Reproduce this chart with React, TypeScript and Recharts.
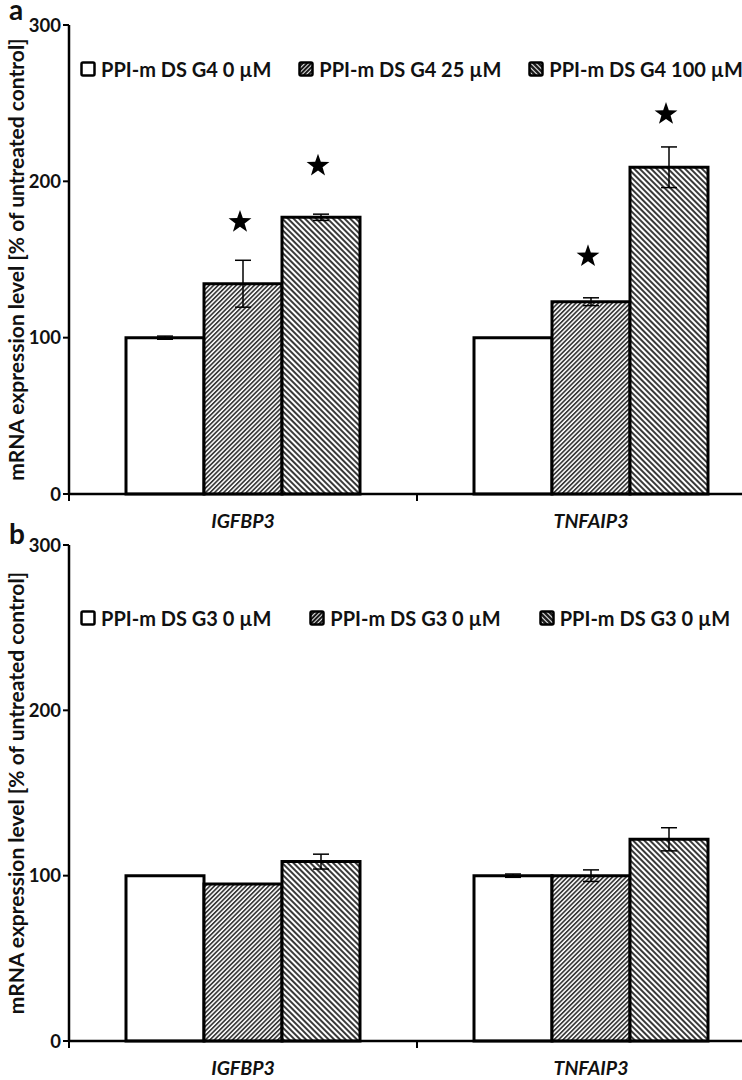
import React from 'react';
import { BarChart, Bar, XAxis, YAxis, ErrorBar, Legend, LabelList } from 'recharts';

const genes = ['IGFBP3', 'TNFAIP3'];
const yTicks = [0, 100, 200, 300];
const yLabel = 'mRNA expression level [% of untreated control]';

const legendA = ['PPI-m DS G4 0 µM', 'PPI-m DS G4 25 µM', 'PPI-m DS G4 100 µM'];
const valuesA0 = [100, 100];
const errorsA0 = [1, 0];
const valuesA25 = [134.5, 123];
const errorsA25 = [15, 2.5];
const valuesA100 = [177, 209];
const errorsA100 = [2, 13];
const starsA25 = [174, 152];
const starsA100 = [210, 243];

const legendB = ['PPI-m DS G3 0 µM', 'PPI-m DS G3 0 µM', 'PPI-m DS G3 0 µM'];
const valuesB0 = [100, 100];
const errorsB0 = [0, 1];
const valuesB25 = [95, 100];
const errorsB25 = [0, 3.5];
const valuesB100 = [108.5, 122];
const errorsB100 = [4.5, 7];

const FONT = 'Lato, "Open Sans", sans-serif';

function buildRows(v0: number[], e0: number[], v25: number[], e25: number[], v100: number[], e100: number[]) {
  return genes.map((g, i) => ({
    gene: g,
    v0: v0[i], e0: e0[i],
    v25: v25[i], e25: e25[i],
    v100: v100[i], e100: e100[i],
  }));
}

const dataA = buildRows(valuesA0, errorsA0, valuesA25, errorsA25, valuesA100, errorsA100);
const dataB = buildRows(valuesB0, errorsB0, valuesB25, errorsB25, valuesB100, errorsB100);

function starPath(cx: number, cy: number, R: number, r: number) {
  let d = '';
  for (let k = 0; k < 10; k++) {
    const ang = -Math.PI / 2 + (k * Math.PI) / 5;
    const rad = k % 2 === 0 ? R : r;
    d += (k === 0 ? 'M' : 'L') + (cx + rad * Math.cos(ang)).toFixed(2) + ',' + (cy + rad * Math.sin(ang)).toFixed(2);
  }
  return d + 'Z';
}

const makeStar = (stars?: number[]) => (props: any) => {
  if (!stars) return null;
  const { x, y, width, height, value, index } = props;
  const s = stars[index];
  if (s == null || !value) return null;
  const unit = Number(height) / Number(value);
  const baseY = Number(y) + Number(height);
  const cy = baseY - s * unit;
  const cx = Number(x) + Number(width) / 2 - 3;
  return <path key={'star' + index} d={starPath(cx, cy, 12, 4.8)} fill="#000" />;
};

const GeneTick = (props: any) => {
  const { x, y, payload, width, visibleTicksCount } = props;
  const half = payload && payload.offset ? payload.offset : width / (visibleTicksCount || 2) / 2;
  const bx = x - half;
  return (
    <g>
      <line x1={bx} x2={bx} y1={y} y2={y + 7} stroke="#000" strokeWidth={2} />
      <text x={x} y={y + 34} textAnchor="middle" fontFamily={FONT} fontWeight={700} fontStyle="italic" fontSize={19.5} fill="#111">
        {payload.value}
      </text>
    </g>
  );
};

function PatternDefs({ prefix }: { prefix: string }) {
  return (
    <defs>
      <pattern id={prefix + 'p25'} width="3.2" height="3.2" patternUnits="userSpaceOnUse" patternTransform="rotate(45)">
        <rect width="3.2" height="3.2" fill="#ffffff" />
        <rect width="1.7" height="3.2" fill="#3a3a3a" />
      </pattern>
      <pattern id={prefix + 'p100'} width="4" height="4" patternUnits="userSpaceOnUse" patternTransform="rotate(-45)">
        <rect width="4" height="4" fill="#ffffff" />
        <rect width="2" height="4" fill="#3a3a3a" />
      </pattern>
    </defs>
  );
}

function LegendContent({ labels, prefix, gap }: { labels: string[]; prefix: string; gap: number }) {
  const fills = ['#ffffff', `url(#${prefix}lp25)`, `url(#${prefix}lp100)`];
  return (
    <div style={{ display: 'flex', flexDirection: 'row', alignItems: 'center', gap, whiteSpace: 'nowrap' }}>
      {labels.map((lab, i) => (
        <div key={i} style={{ display: 'flex', alignItems: 'center' }}>
          <svg width={16} height={16} style={{ display: 'block' }}>
            <defs>
              <pattern id={prefix + 'lp25'} width="3" height="3" patternUnits="userSpaceOnUse" patternTransform="rotate(45)">
                <rect width="3" height="3" fill="#1a1a1a" />
                <rect width="0.9" height="3" fill="#ffffff" />
              </pattern>
              <pattern id={prefix + 'lp100'} width="3.5" height="3.5" patternUnits="userSpaceOnUse" patternTransform="rotate(-45)">
                <rect width="3.5" height="3.5" fill="#1a1a1a" />
                <rect width="1" height="3.5" fill="#ffffff" />
              </pattern>
            </defs>
            <rect x={1.5} y={1.5} width={13} height={13} fill={fills[i]} stroke="#000" strokeWidth={2.5} rx={1.5} />
          </svg>
          <span style={{ marginLeft: 5, fontFamily: FONT, fontWeight: 700, fontSize: 20, color: '#111' }}>{lab}</span>
        </div>
      ))}
    </div>
  );
}

interface PanelProps {
  data: any[];
  labels: string[];
  prefix: string;
  height: number;
  bottom: number;
  xAxisHeight: number;
  legendTop: number;
  legendGap: number;
  stars25?: number[];
  stars100?: number[];
}

function Panel({ data, labels, prefix, height, bottom, xAxisHeight, legendTop, legendGap, stars25, stars100 }: PanelProps) {
  return (
    <BarChart
      width={780}
      height={height}
      data={data}
      margin={{ top: 25, right: 15, bottom, left: 0 }}
      barCategoryGap={57}
      barGap={0}
    >
      <PatternDefs prefix={prefix} />
      <XAxis
        dataKey="gene"
        height={xAxisHeight}
        axisLine={{ stroke: '#000', strokeWidth: 2.5 }}
        tickLine={false}
        tickSize={0}
        tickMargin={0}
        tick={<GeneTick />}
        interval={0}
      />
      <YAxis
        width={69}
        domain={[0, 300]}
        ticks={yTicks}
        interval={0}
        axisLine={{ stroke: '#000', strokeWidth: 2.5 }}
        tickLine={{ stroke: '#000', strokeWidth: 2 }}
        tickSize={6}
        tickMargin={2}
        tick={{ fontFamily: FONT, fontWeight: 700, fontSize: 18.5, fill: '#111' }}
        label={{
          value: yLabel,
          angle: -90,
          position: 'insideLeft',
          offset: 17,
          fill: '#111',
          fontSize: 21,
          fontWeight: 700,
          fontFamily: FONT,
          style: { textAnchor: 'middle', fontFamily: FONT, fontWeight: 700, fontSize: 21 },
        }}
      />
      <Legend
        layout="horizontal"
        verticalAlign="middle"
        align="center"
        wrapperStyle={{ position: 'absolute', top: legendTop, left: 80, width: 660, height: 26 }}
        content={() => <LegendContent labels={labels} prefix={prefix} gap={legendGap} />}
      />
      <Bar dataKey="v0" name={labels[0]} fill="#ffffff" stroke="#000" strokeWidth={3} isAnimationActive={false}>
        <ErrorBar dataKey="e0" width={8} stroke="#000" strokeWidth={1.5} direction="y" />
      </Bar>
      <Bar dataKey="v25" name={labels[1]} fill={`url(#${prefix}p25)`} stroke="#000" strokeWidth={3} isAnimationActive={false}>
        <ErrorBar dataKey="e25" width={8} stroke="#000" strokeWidth={1.5} direction="y" />
        {stars25 ? <LabelList dataKey="v25" content={makeStar(stars25)} /> : null}
      </Bar>
      <Bar dataKey="v100" name={labels[2]} fill={`url(#${prefix}p100)`} stroke="#000" strokeWidth={3} isAnimationActive={false}>
        <ErrorBar dataKey="e100" width={8} stroke="#000" strokeWidth={1.5} direction="y" />
        {stars100 ? <LabelList dataKey="v100" content={makeStar(stars100)} /> : null}
      </Bar>
    </BarChart>
  );
}

export default function App() {
  return (
    <div style={{ position: 'absolute', left: 0, top: 0, width: 742, height: 1080, overflow: 'hidden', background: '#fff' }}>
      <div style={{ position: 'absolute', left: 0, top: 0 }}>
        <Panel data={dataA} labels={legendA} prefix="a" height={545} bottom={11} xAxisHeight={40} legendTop={57} legendGap={27} stars25={starsA25} stars100={starsA100} />
      </div>
      <div style={{ position: 'absolute', left: 0, top: 520 }}>
        <Panel data={dataB} labels={legendB} prefix="b" height={560} bottom={2} xAxisHeight={37} legendTop={86} legendGap={38} />
      </div>
      <div style={{ position: 'absolute', left: 9, top: 0, fontFamily: FONT, fontWeight: 700, fontSize: 28, lineHeight: '18px', color: '#111' }}>a</div>
      <div style={{ position: 'absolute', left: 9, top: 524, fontFamily: FONT, fontWeight: 700, fontSize: 28, lineHeight: '18px', color: '#111' }}>b</div>
    </div>
  );
}
